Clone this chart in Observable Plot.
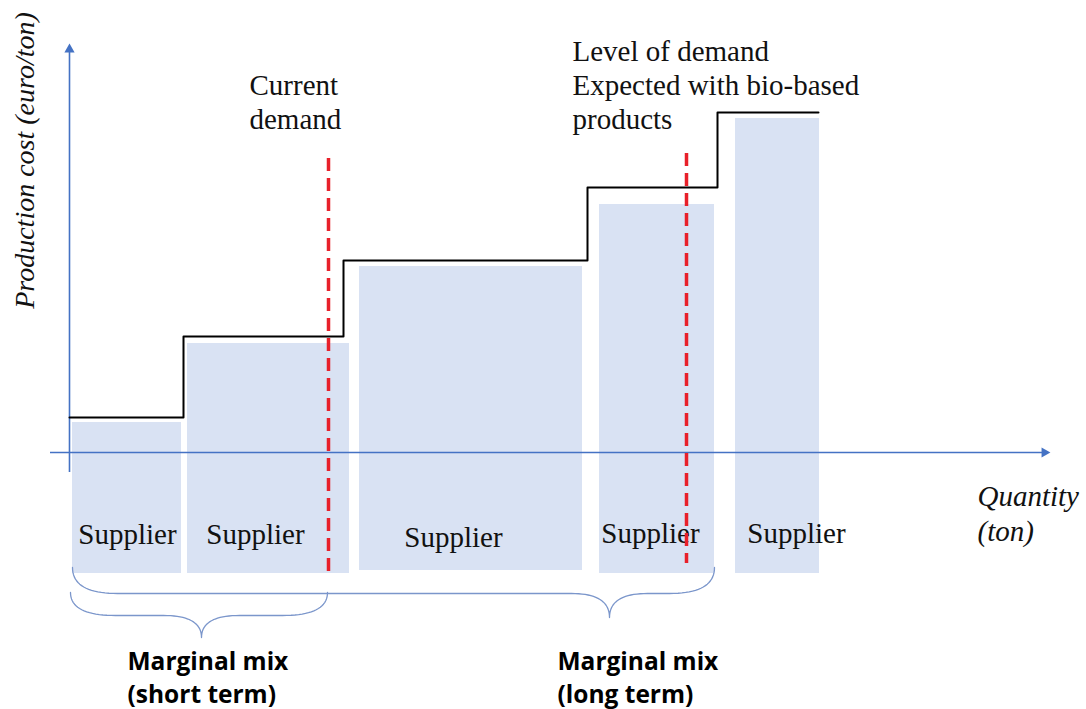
<!DOCTYPE html>
<html>
<head>
<meta charset="utf-8">
<script src="https://cdn.jsdelivr.net/npm/d3@7"></script>
<script src="https://cdn.jsdelivr.net/npm/@observablehq/plot@0.6"></script>
<style>
  html, body { margin: 0; padding: 0; background: #fff; }
</style>
</head>
<body>
<div id="chart"></div>
<script>
// ---------- DATA (schematic units: quantity along x, production cost along y) ----------
const supplierNames = ["Supplier", "Supplier", "Supplier", "Supplier", "Supplier"];
const supplierQtyStart = [3, 118, 290, 530, 666];
const supplierQtyEnd   = [112, 280, 513, 645, 750];
const supplierCost     = [30, 109, 186, 248, 334];
const supplierFloor    = [-121, -121, -118, -121, -121];

// merit-order (supply) curve
const curveQty  = [0, 114, 274, 518, 648, 749];
const curveCost = [35, 116, 192, 265, 340, 340];

// demand levels
const demandNames  = ["Current\ndemand", "Level of demand\nExpected with bio-based\nproducts"];
const demandQty    = [259, 617];
const demandTop    = [294, 299];
const demandBottom = [-121, -111];

// marginal mix braces
const mixNames     = ["Marginal mix\n(short term)", "Marginal mix\n(long term)"];
const mixQtyStart  = [1, 3];
const mixQtyEnd    = [258, 645];
const mixQtyTip    = [132, 540];

// axis titles
const yTitle = "Production cost (euro/ton)";
const xTitle = "Quantity\n(ton)";

// ---------- LAYOUT ----------
const suppliers = supplierNames.map((name, i) => ({
  name, x1: supplierQtyStart[i], x2: supplierQtyEnd[i], y1: supplierFloor[i], y2: supplierCost[i]
}));
const supplierLabelPos = [[58, -91], [186, -91], [384, -94], [581, -90], [727, -90]];
const supplierLabels = suppliers.map((s, i) => ({name: s.name, q: supplierLabelPos[i][0], c: supplierLabelPos[i][1]}));

const curve = curveQty.map((q, i) => ({q, c: curveCost[i]}));
const demand = demandQty.map((q, i) => ({q, top: demandTop[i], bottom: demandBottom[i]}));

// brace geometry (top of curl, horizontal run, tip)
const braceLevels = [[-140, -163, -185], [-115, -141, -165]];
function bracePoints(id, x0, x1, xc, top, mid, tip, curl, neck) {
  const pts = [];
  const quad = (p0, p1, p2, n) => {
    for (let k = 0; k <= n; k++) {
      const t = k / n;
      pts.push({
        brace: id,
        q: (1 - t) ** 2 * p0[0] + 2 * (1 - t) * t * p1[0] + t * t * p2[0],
        c: (1 - t) ** 2 * p0[1] + 2 * (1 - t) * t * p1[1] + t * t * p2[1]
      });
    }
  };
  quad([x0, top], [x0, mid], [x0 + curl, mid], 20);
  quad([xc - neck, mid], [xc, mid], [xc, tip], 20);
  quad([xc, tip], [xc, mid], [xc + neck, mid], 20);
  quad([x1 - curl, mid], [x1, mid], [x1, top], 20);
  return pts;
}
const bracePts = mixNames.flatMap((n, i) =>
  bracePoints(i, mixQtyStart[i], mixQtyEnd[i], mixQtyTip[i],
    braceLevels[i][0], braceLevels[i][1], braceLevels[i][2], 45, 38));

const mixLabels = mixNames.map((t, i) => ({t, q: [58, 488][i], c: -250}));
const demandLabels = demandNames.map((t, i) => ({t, q: [180, 503][i], c: [324, 324][i]}));

const axisBlue = "#4472c4";
const serif = "'Liberation Serif', 'Times New Roman', serif";

const chart = Plot.plot({
  width: 1086,
  height: 709,
  marginTop: 0, marginRight: 0, marginBottom: 0, marginLeft: 0,
  x: {domain: [-69, 1017], range: [0, 1086], axis: null},
  y: {domain: [-257, 452], range: [709, 0], axis: null},
  style: {background: "#ffffff", overflow: "visible"},
  marks: [
    // supplier blocks
    Plot.rect(suppliers, {x1: "x1", x2: "x2", y1: "y1", y2: "y2", fill: "#d9e2f3"}),
    // axes
    Plot.ruleY([0], {x1: -19, x2: 976, stroke: axisBlue, strokeWidth: 1.6}),
    Plot.ruleX([0], {y1: -20, y2: 404, stroke: axisBlue, strokeWidth: 1.6}),
    Plot.dot([{q: 0, c: 403, r: 0}, {q: 975, c: 0, r: 90}], {
      x: "q", y: "c", rotate: "r", symbol: "triangle", r: 3.8, fill: axisBlue, stroke: "none"
    }),
    // supply curve
    Plot.line(curve, {x: "q", y: "c", curve: "step-after", stroke: "#000", strokeWidth: 2}),
    // braces
    Plot.line(bracePts, {x: "q", y: "c", z: "brace", stroke: "#7b96cb", strokeWidth: 1.3}),
    // supplier labels
    Plot.text(supplierLabels, {
      x: "q", y: "c", text: "name", fontFamily: serif, fontSize: 29,
      lineAnchor: "bottom", textAnchor: "middle", fill: "#111"
    }),
    // demand annotations
    Plot.text(demandLabels, {
      x: "q", y: "c", text: "t", fontFamily: serif, fontSize: 29, lineHeight: 1.17,
      lineAnchor: "bottom", textAnchor: "start", fill: "#111"
    }),
    // marginal mix labels
    Plot.text(mixLabels, {
      x: "q", y: "c", text: "t", fontFamily: "'Open Sans', Lato, sans-serif", fontWeight: "bold",
      fontSize: 24.5, lineHeight: 1.31, lineAnchor: "bottom", textAnchor: "start", fill: "#000"
    }),
    // axis titles
    Plot.text([yTitle], {
      x: -36, y: 292, text: d => d, rotate: -90, fontFamily: serif, fontStyle: "italic",
      fontSize: 28, lineAnchor: "bottom", textAnchor: "middle", fill: "#111"
    }),
    Plot.text([xTitle], {
      x: 908, y: -88, text: d => d, fontFamily: serif, fontStyle: "italic",
      fontSize: 29, lineHeight: 1.2, lineAnchor: "bottom", textAnchor: "start", fill: "#111"
    }),
    // demand lines (on top)
    Plot.ruleX(demand, {
      x: "q", y1: "top", y2: "bottom", stroke: "#e8202a", strokeWidth: 3.5, strokeDasharray: "13,7"
    })
  ]
});
document.getElementById("chart").append(chart);
</script>
</body>
</html>
